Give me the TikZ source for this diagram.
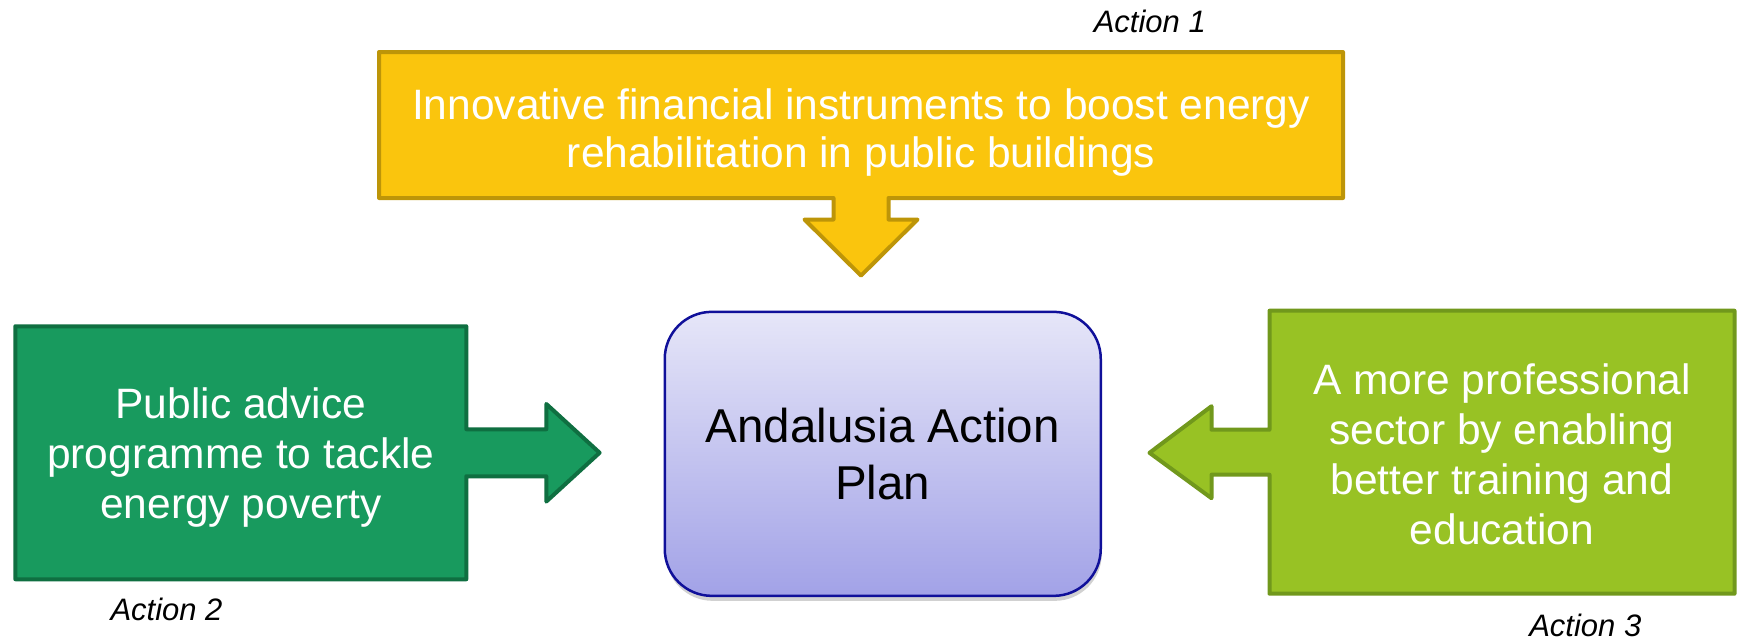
\documentclass[tikz,border=0pt]{standalone}
\usepackage{fontspec}
\setmainfont{Liberation Sans}
\usetikzlibrary{positioning,calc,shadows}

\definecolor{goldfill}{HTML}{FAC50D}
\definecolor{goldline}{HTML}{BD9508}
\definecolor{greenfill}{HTML}{189A5E}
\definecolor{greenline}{HTML}{0F6F41}
\definecolor{limefill}{HTML}{98C224}
\definecolor{limeline}{HTML}{71981C}
\definecolor{plantop}{HTML}{E6E6F8}
\definecolor{planbottom}{HTML}{A2A2E7}
\definecolor{planline}{HTML}{10109A}

\pgfdeclarelayer{back}
\pgfsetlayers{back,main}

\begin{document}
\begin{tikzpicture}[x=1pt,y=-1pt,
actbox/.style={
  rectangle,
  inner sep=0pt,
  outer sep=0pt},
acttext/.style={
  align=center,
  text=white,
  font=\fontsize{42.5}{50}\selectfont},
actlabel/.style={
  inner sep=0pt,
  font=\fontsize{31}{36}\selectfont\itshape},
callout/.style={
  line width=4pt,
  line join=round}
]
\useasboundingbox (0,0) rectangle (1740,641);

% the plan in the middle
\node[draw=planline, line width=2.5pt, rounded corners=47pt,
  top color=plantop, bottom color=planbottom,
  drop shadow={shadow xshift=1pt, shadow yshift=-5pt, opacity=.3, fill=black!60},
  minimum width=436pt, minimum height=284pt, align=center,
  font=\fontsize{47.5}{57}\selectfont] (plan) at (882.75,453.85) {Andalusia Action\\Plan};

% the three actions
\node[actbox, minimum width=964pt, minimum height=146pt] (act1) at (861,125) {};
\node[actbox, minimum width=451pt, minimum height=253pt] (act2) at (240.8,452.75) {};
\node[actbox, minimum width=465pt, minimum height=283pt] (act3) at (1502,452.2) {};

\coordinate (tip1) at ($(act1.south)+(0,77.6)$);
\coordinate (tip2) at ($(act2.east)+(133.3,0)$);
\coordinate (tip3) at ($(act3.west)+(-120,0.6)$);

\begin{pgfonlayer}{back}
\draw[callout, draw=goldline, fill=goldfill] (act1.north west) -- (act1.north east) -- (act1.south east)
  -- ($(act1.south)+(27.5,0)$) -- ($(act1.south)+(27.5,21.5)$) -- ($(act1.south)+(56.5,21.5)$)
  -- (tip1) -- ($(act1.south)+(-56.5,21.5)$) -- ($(act1.south)+(-27.5,21.5)$)
  -- ($(act1.south)+(-27.5,0)$) -- (act1.south west) -- cycle;
\draw[callout, draw=greenline, fill=greenfill] (act2.north west) -- (act2.north east)
  -- ($(act2.east)+(0,-23.5)$) -- ($(act2.east)+(80,-23.5)$) -- ($(act2.east)+(80,-48.8)$)
  -- (tip2) -- ($(act2.east)+(80,48.8)$) -- ($(act2.east)+(80,23.5)$)
  -- ($(act2.east)+(0,23.5)$) -- (act2.south east) -- (act2.south west) -- cycle;
\draw[callout, draw=limeline, fill=limefill] (act3.north east) -- (act3.north west)
  -- ($(act3.west)+(0,-22.5)$) -- ($(act3.west)+(-58,-22.5)$) -- ($(act3.west)+(-58,-46)$)
  -- (tip3) -- ($(act3.west)+(-58,46)$) -- ($(act3.west)+(-58,22.5)$)
  -- ($(act3.west)+(0,22.5)$) -- (act3.south west) -- (act3.south east) -- cycle;
\end{pgfonlayer}

\node[acttext, font=\fontsize{42.5}{48}\selectfont] (txt1) at ($(act1)+(0,8)$)
  {Innovative financial instruments to boost energy\\rehabilitation in public buildings};
\node[acttext] (txt2) at ($(act2)+(0,4.5)$)
  {Public advice\\programme to tackle\\energy poverty};
\node[acttext] (txt3) at ($(act3)+(0,2)$)
  {A more professional\\sector by enabling\\better training and\\education};

\node[actlabel, above left=19pt and 137pt of act1.north east] (lab1) {Action 1};
\node[actlabel, below right=19pt and 95pt of act2.south west] (lab2) {Action 2};
\node[actlabel, below left=20pt and 93pt of act3.south east] (lab3) {Action 3};
\end{tikzpicture}
\end{document}
